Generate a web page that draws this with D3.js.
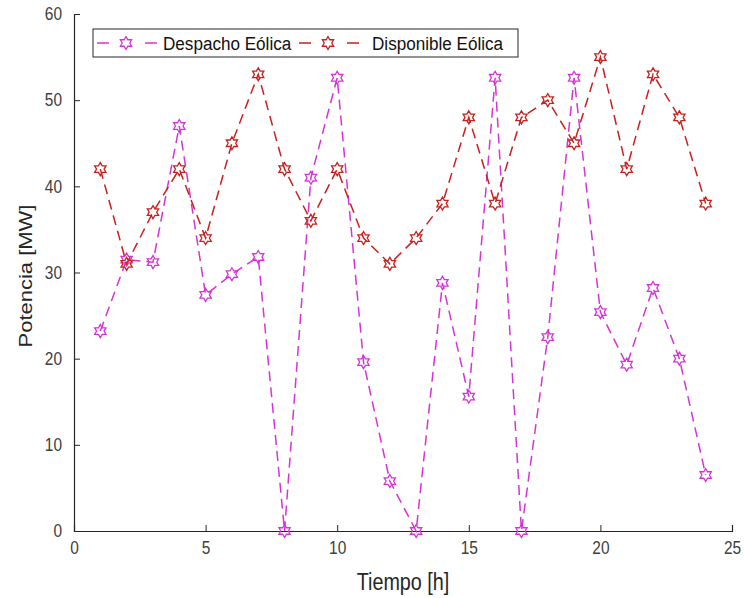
<!DOCTYPE html>
<html>
<head>
<meta charset="utf-8">
<script src="https://cdn.jsdelivr.net/npm/d3@7"></script>
<style>
  body { margin: 0; background: #fff; }
  text { font-family: "Liberation Sans", Arial, sans-serif; }
</style>
</head>
<body>
<svg id="chart" width="744" height="598"></svg>
<script>
// hours 1..24
const hours = d3.range(1, 25);
const despacho = [23.2, 31.5, 31.2, 47, 27.4, 29.8, 31.8, 0, 41, 52.6, 19.6, 5.8,
                  0, 28.8, 15.6, 52.6, 0, 22.5, 52.6, 25.4, 19.3, 28.2, 20, 6.5];
const disponible = [42, 31, 37, 42, 34, 45, 53, 42, 36, 42, 34, 31,
                    34, 38, 48, 38, 48, 50, 45, 55, 42, 53, 48, 38];
const xTicks = [0, 5, 10, 15, 20, 25];
const yTicks = [0, 10, 20, 30, 40, 50, 60];
const seriesNames = ['Despacho Eólica', 'Disponible Eólica'];

const svg = d3.select('#chart');
const margin = {left: 74, right: 12, top: 14, bottom: 67};
const W = 744, H = 598;
const squeeze = 0.86; // the original text is a bit narrow

const x = d3.scaleLinear().domain([0, 25]).range([margin.left, W - margin.right]);
const y = d3.scaleLinear().domain([0, 60]).range([H - margin.bottom, margin.top]);

const axisColor = '#262626';

// axes (box off, ticks pointing in)
const gx = svg.append('g')
    .attr('transform', `translate(0,${y(0)})`)
    .call(d3.axisBottom(x).tickValues(xTicks).tickSize(-6).tickPadding(10));
const gy = svg.append('g')
    .attr('transform', `translate(${x(0)},0)`)
    .call(d3.axisLeft(y).tickValues(yTicks).tickSize(-6).tickPadding(12));

[gx, gy].forEach(g => {
  g.select('.domain').attr('stroke', axisColor).attr('stroke-width', 1.2);
  g.selectAll('.tick line').attr('stroke', axisColor).attr('stroke-width', 1);
  g.selectAll('.tick text')
      .attr('fill', '#404040')
      .attr('font-size', 18)
      .attr('transform', `scale(${squeeze},1)`)
      .style('font-family', '"Liberation Sans", Arial, sans-serif');
});
gy.selectAll('.tick text').attr('x', -12 / squeeze);

svg.append('text')
    .attr('transform', `translate(${(x(0) + x(25)) / 2},590) scale(${squeeze},1)`)
    .attr('text-anchor', 'middle')
    .attr('font-size', 23)
    .attr('fill', '#262626')
    .text('Tiempo [h]');

svg.append('text')
    .attr('transform', `translate(32,276) scale(${squeeze},1) rotate(-90)`)
    .attr('text-anchor', 'middle')
    .attr('font-size', 22)
    .attr('fill', '#262626')
    .text('Potencia [MW]');

// hexagram path
function hexagram(r) {
  const pts = [];
  for (let i = 0; i < 12; i++) {
    const a = -Math.PI / 2 + i * Math.PI / 6;
    const rr = i % 2 === 0 ? r : r * 0.58;
    pts.push([rr * Math.cos(a), rr * Math.sin(a)]);
  }
  return 'M' + pts.map(p => p.join(',')).join('L') + 'Z';
}

const series = [
  {name: seriesNames[0], values: despacho, color: '#d633d6'},
  {name: seriesNames[1], values: disponible, color: '#c8201e'}
];

const line = d3.line().x(d => x(d[0])).y(d => y(d[1]));

series.forEach(s => {
  const pts = hours.map((h, i) => [h, s.values[i]]);
  svg.append('path')
      .attr('d', line(pts))
      .attr('fill', 'none')
      .attr('stroke', s.color)
      .attr('stroke-width', 1.5)
      .attr('stroke-dasharray', '10,6');
  svg.append('g').selectAll('path')
      .data(pts)
      .join('path')
      .attr('transform', d => `translate(${x(d[0])},${y(d[1])})`)
      .attr('d', hexagram(6.5))
      .attr('fill', 'none')
      .attr('stroke', s.color)
      .attr('stroke-width', 1.3);
});

// legend
const lg = svg.append('g');
lg.append('rect')
    .attr('x', 93).attr('y', 29)
    .attr('width', 425).attr('height', 28)
    .attr('fill', '#fff')
    .attr('stroke', axisColor)
    .attr('stroke-width', 1);

const items = [{x0: 97, tx: 163}, {x0: 299, tx: 372}];
series.forEach((s, i) => {
  const it = items[i];
  const cy = 43;
  lg.append('line')
      .attr('x1', it.x0).attr('x2', it.x0 + 60)
      .attr('y1', cy).attr('y2', cy)
      .attr('stroke', s.color).attr('stroke-width', 1.5)
      .attr('stroke-dasharray', '12,36,12');
  lg.append('path')
      .attr('transform', `translate(${it.x0 + 29},${cy})`)
      .attr('d', hexagram(6.5))
      .attr('fill', 'none')
      .attr('stroke', s.color)
      .attr('stroke-width', 1.3);
  lg.append('text')
      .attr('transform', `translate(${it.tx},${cy + 7}) scale(0.9,1)`)
      .attr('font-size', 19)
      .attr('fill', '#111')
      .text(s.name);
});
</script>
</body>
</html>
